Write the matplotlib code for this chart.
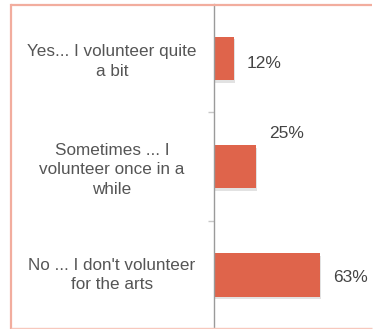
import matplotlib.pyplot as plt
from matplotlib.lines import Line2D

categories = ["Yes... I volunteer quite\na bit",
              "Sometimes ... I\nvolunteer once in a\nwhile",
              "No ... I don't volunteer\nfor the arts"]
values = [12, 25, 63]
labels = ["12%", "25%", "63%"]

W, H = 373, 329
fig = plt.figure(figsize=(W / 100, H / 100), dpi=100)

# pink frame: left, top and bottom edges (right edge runs off the picture)
fx0, fx1 = 10.5 / W, 371.5 / W
fy0, fy1 = 1 - 328 / H, 1 - 4.5 / H
fig.lines.append(Line2D([fx0, fx0], [fy0, fy1], transform=fig.transFigure,
                        color="#f2ad9e", linewidth=1.6))
fig.lines.append(Line2D([fx0, fx1], [fy1, fy1], transform=fig.transFigure,
                        color="#f2ad9e", linewidth=1.6, solid_capstyle="butt"))
fig.lines.append(Line2D([fx0, fx1], [fy0, fy0], transform=fig.transFigure,
                        color="#f7c8bd", linewidth=1.0, solid_capstyle="butt"))

ax = fig.add_axes([214 / W, 1 - 329 / H, 1 - 214 / W, 325 / H])
ypos = [0, 1, 2]
bar_color = "#df644b"
# soft shadow behind bars
ax.barh([y + 0.025 for y in ypos], values, height=0.4, left=0.5,
        color="#c0c0c0", alpha=0.45, zorder=1)
ax.barh(ypos, values, height=0.4, color=bar_color, zorder=2)

ax.set_xlim(0, 159 / 1.69)
ax.set_ylim(2.5, -0.5)

dys = [0.05, -0.3, 0.02]
for y, v, dy, lab in zip(ypos, values, dys, labels):
    ax.text(v + 7.5, y + dy, lab, ha="left", va="center", fontsize=12.5,
            family="Liberation Sans", color="#444444")

dyc = [0.03, 0.03, 0.0]
for y, dy, cat in zip(ypos, dyc, categories):
    ax.text(-102 / 1.69, y + dy, cat, ha="center", va="center", fontsize=12.3,
            family="Liberation Sans", color="#555555", linespacing=1.38)

for s in ["top", "right", "bottom"]:
    ax.spines[s].set_visible(False)
ax.spines["left"].set_color("#9a9a9a")
ax.spines["left"].set_linewidth(1.0)
ax.set_xticks([])
ax.set_yticks([0.5, 1.5])
ax.set_yticklabels([])
ax.tick_params(axis="y", length=4, color="#c8c8c8", width=1)

fig.savefig("out.png", dpi=100)
